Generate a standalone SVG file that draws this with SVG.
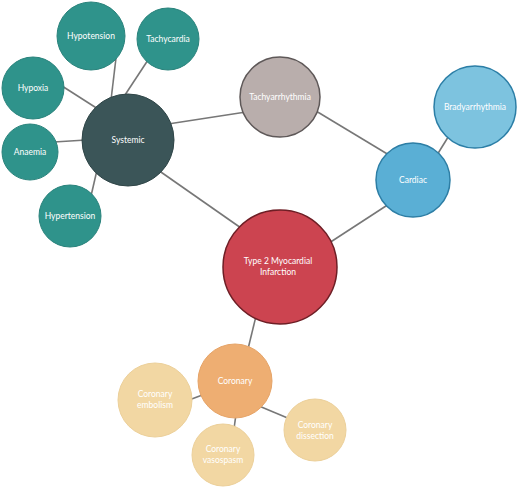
<svg xmlns="http://www.w3.org/2000/svg" width="520" height="487" viewBox="0 0 520 487">
<style>
  text { font-family: Lato, "Open Sans", "Liberation Sans", sans-serif; font-size: 8.5px; fill: #ffffff; text-anchor: middle; dominant-baseline: central; }
  .conn line { stroke: #777777; stroke-width: 1.6; }
  .teal { fill: #2f938b; stroke: #2a837c; stroke-width: 1; }
  .sys { fill: #3b5558; stroke: #2f4547; stroke-width: 1; }
  .tachy { fill: #b9aeac; stroke: #5e5858; stroke-width: 1.5; }
  .brady { fill: #7dc3df; stroke: #2b7ea6; stroke-width: 1.5; }
  .cardiac { fill: #5aafd5; stroke: #2d7ea5; stroke-width: 1.5; }
  .mi { fill: #cc4450; stroke: #6e1e25; stroke-width: 1.5; }
  .cor { fill: #eeae72; stroke: #e6a468; stroke-width: 1; }
  .peach { fill: #f2d7a3; stroke: #ecd09a; stroke-width: 1; }
</style>
<rect width="520" height="487" fill="#ffffff"/>
<g id="connectors" class="conn">
  <line x1="116" y1="58" x2="111" y2="100"/>
  <line x1="148" y1="60" x2="123" y2="98"/>
  <line x1="62" y1="86" x2="98" y2="109"/>
  <line x1="54" y1="142" x2="86" y2="140"/>
  <line x1="91" y1="196" x2="97" y2="170"/>
  <line x1="168" y1="124" x2="246" y2="112"/>
  <line x1="158" y1="170" x2="241" y2="228"/>
  <line x1="316" y1="111" x2="389" y2="155"/>
  <line x1="450" y1="134" x2="437" y2="155"/>
  <line x1="389" y1="204" x2="326" y2="245"/>
  <line x1="257" y1="312" x2="248" y2="349"/>
  <line x1="205" y1="394" x2="189" y2="400"/>
  <line x1="236" y1="414" x2="234" y2="429"/>
  <line x1="259" y1="406" x2="290" y2="419"/>
</g>
<g id="hypotension"><circle class="teal" cx="91" cy="36" r="34"/><text x="91" y="36">Hypotension</text></g>
<g id="tachycardia"><circle class="teal" cx="168" cy="39" r="31"/><text x="168" y="39">Tachycardia</text></g>
<g id="hypoxia"><circle class="teal" cx="33" cy="88" r="31"/><text x="33" y="88">Hypoxia</text></g>
<g id="anaemia"><circle class="teal" cx="30" cy="152" r="28"/><text x="30" y="152">Anaemia</text></g>
<g id="hypertension"><circle class="teal" cx="70" cy="216" r="31"/><text x="70" y="216">Hypertension</text></g>
<g id="systemic"><circle class="sys" cx="128" cy="140" r="46"/><text x="128" y="140">Systemic</text></g>
<g id="tachyarrhythmia"><circle class="tachy" cx="280" cy="97" r="40"/><text x="280" y="97">Tachyarrhythmia</text></g>
<g id="bradyarrhythmia"><circle class="brady" cx="475" cy="107" r="41"/><text x="475" y="107">Bradyarrhythmia</text></g>
<g id="cardiac"><circle class="cardiac" cx="413" cy="180" r="37"/><text x="413" y="180">Cardiac</text></g>
<g id="mi"><circle class="mi" cx="280" cy="267" r="57"/><text x="278" y="261">Type 2 Myocardial</text><text x="278" y="272">Infarction</text></g>
<g id="coronary"><circle class="cor" cx="235" cy="381" r="37"/><text x="235" y="381">Coronary</text></g>
<g id="coronary-embolism"><circle class="peach" cx="155" cy="400" r="37"/><text x="155" y="394">Coronary</text><text x="155" y="405">embolism</text></g>
<g id="coronary-vasospasm"><circle class="peach" cx="223" cy="455" r="31"/><text x="223" y="449">Coronary</text><text x="223" y="460">vasospasm</text></g>
<g id="coronary-dissection"><circle class="peach" cx="315" cy="430" r="31"/><text x="315" y="425">Coronary</text><text x="315" y="436">dissection</text></g>
</svg>
